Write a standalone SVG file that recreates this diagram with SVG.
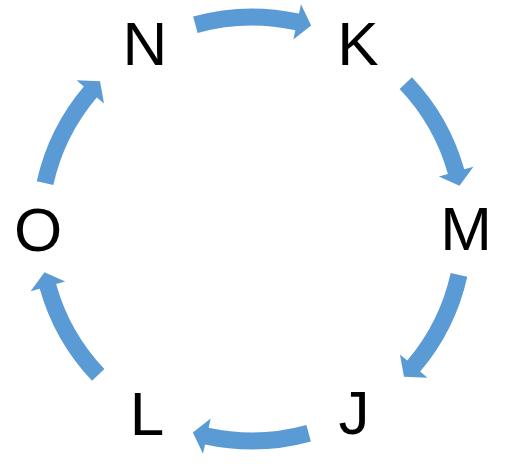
<svg xmlns="http://www.w3.org/2000/svg" width="506" height="466" viewBox="0 0 506 466">
<style>
.lbl{font-family:"Liberation Sans",Arial,sans-serif;font-size:62px;fill:#000;text-anchor:middle}
.arr{fill:#5B9BD5}
</style>
<defs>
<path id="ca" d="M 193.07 16.52 A 220.5 220.5 0 0 1 298.97 13.56 L 301 4.28 L 311.15 25.42 L 293.33 39.45 L 295.35 30.17 A 203.5 203.5 0 0 0 197.62 32.9 Z"/>
</defs>
<rect width="506" height="466" fill="#fff"/>
<g id="connectors">
<use href="#ca" class="arr"/>
<use href="#ca" class="arr" transform="rotate(62 252 229)"/>
<use href="#ca" class="arr" transform="rotate(118 252 229)"/>
<use href="#ca" class="arr" transform="rotate(180 252 229)"/>
<use href="#ca" class="arr" transform="rotate(242 252 229)"/>
<use href="#ca" class="arr" transform="rotate(298 252 229)"/>
</g>
<g id="node-N"><text class="lbl" x="145" y="65">N</text></g>
<g id="node-K"><text class="lbl" x="358" y="65">K</text></g>
<g id="node-M"><text class="lbl" x="466" y="250">M</text></g>
<g id="node-J"><text class="lbl" x="354" y="434">J</text></g>
<g id="node-L"><text class="lbl" x="147" y="435">L</text></g>
<g id="node-O"><text class="lbl" x="38" y="251">O</text></g>
</svg>
